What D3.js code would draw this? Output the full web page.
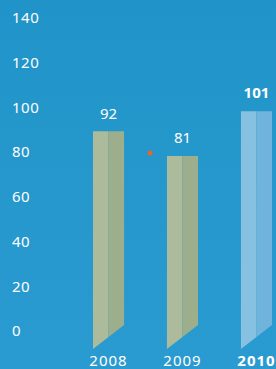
<!DOCTYPE html>
<html>
<head>
<meta charset="utf-8">
<script src="https://cdn.jsdelivr.net/npm/d3@7"></script>
<style>
  html, body { margin: 0; padding: 0; background: #2396c9; }
  svg { display: block; }
  text { font-family: "Noto Sans", "Lato", sans-serif; fill: #ffffff; }
</style>
</head>
<body>
<svg id="chart"></svg>
<script>
// donnees du graphique
const annees = ["2008", "2009", "2010"];
const valeurs = [92, 81, 101];
const graduations = [0, 20, 40, 60, 80, 100, 120, 140];

const W = 276, H = 369;
const svg = d3.select("#chart").attr("width", W).attr("height", H);

// fond degrade
const defs = svg.append("defs");
const grad = defs.append("linearGradient").attr("id", "fond").attr("x1", 0).attr("y1", 0).attr("x2", 0).attr("y2", 1);
grad.append("stop").attr("offset", "0%").attr("stop-color", "#2094c8");
grad.append("stop").attr("offset", "100%").attr("stop-color", "#2a9bd0");
svg.append("rect").attr("width", W).attr("height", H).attr("fill", "url(#fond)");

const y = d3.scaleLinear().domain([0, 140]).range([337, 24]);
const x = d3.scaleBand().domain(annees).range([93, 272]).paddingInner(0.58).paddingOuter(0);

// axe vertical (etiquettes seulement)
svg.append("g").selectAll("text")
  .data(graduations)
  .join("text")
  .attr("x", 12)
  .attr("y", d => y(d) - 6)
  .attr("dy", "0.35em")
  .attr("font-size", 15)
  .attr("letter-spacing", 0.5)
  .text(d => d);

// couleurs des barres
const clair = ["#abbb9b", "#abbb9b", "#86c1e1"];
const fonce = ["#9cae8b", "#9cae8b", "#70b4dc"];
const pente = 12;

const barres = svg.append("g").selectAll("g")
  .data(annees)
  .join("g");

barres.append("path")
  .attr("fill", (d, i) => clair[i])
  .attr("d", (d, i) => {
    const x0 = x(d), xm = x(d) + x.bandwidth() / 2, yt = y(valeurs[i]), yb = y(0);
    return "M" + x0 + "," + yt + "L" + xm + "," + yt + "L" + xm + "," + yb + "L" + x0 + "," + (yb + pente) + "Z";
  });

barres.append("path")
  .attr("fill", (d, i) => fonce[i])
  .attr("d", (d, i) => {
    const xm = x(d) + x.bandwidth() / 2, x1 = x(d) + x.bandwidth(), yt = y(valeurs[i]), yb = y(0);
    return "M" + xm + "," + yt + "L" + x1 + "," + yt + "L" + x1 + "," + (yb - pente) + "L" + xm + "," + yb + "Z";
  });

// valeurs au dessus des barres
barres.append("text")
  .attr("x", d => x(d) + x.bandwidth() / 2)
  .attr("y", (d, i) => y(valeurs[i]) - 18)
  .attr("dy", "0.35em")
  .attr("text-anchor", "middle")
  .attr("font-size", 15)
  .attr("font-weight", (d, i) => i == 2 ? "bold" : "normal")
  .text((d, i) => valeurs[i]);

// annees sous les barres
barres.append("text")
  .attr("x", d => x(d) + x.bandwidth() / 2)
  .attr("y", 361)
  .attr("dy", "0.35em")
  .attr("text-anchor", "middle")
  .attr("font-size", 15)
  .attr("letter-spacing", 1)
  .attr("font-weight", (d, i) => i == 2 ? "bold" : "normal")
  .text(d => d);

// point orange
svg.append("circle")
  .attr("cx", 150)
  .attr("cy", 153)
  .attr("r", 2.5)
  .attr("fill", "#e3672b");
</script>
</body>
</html>
